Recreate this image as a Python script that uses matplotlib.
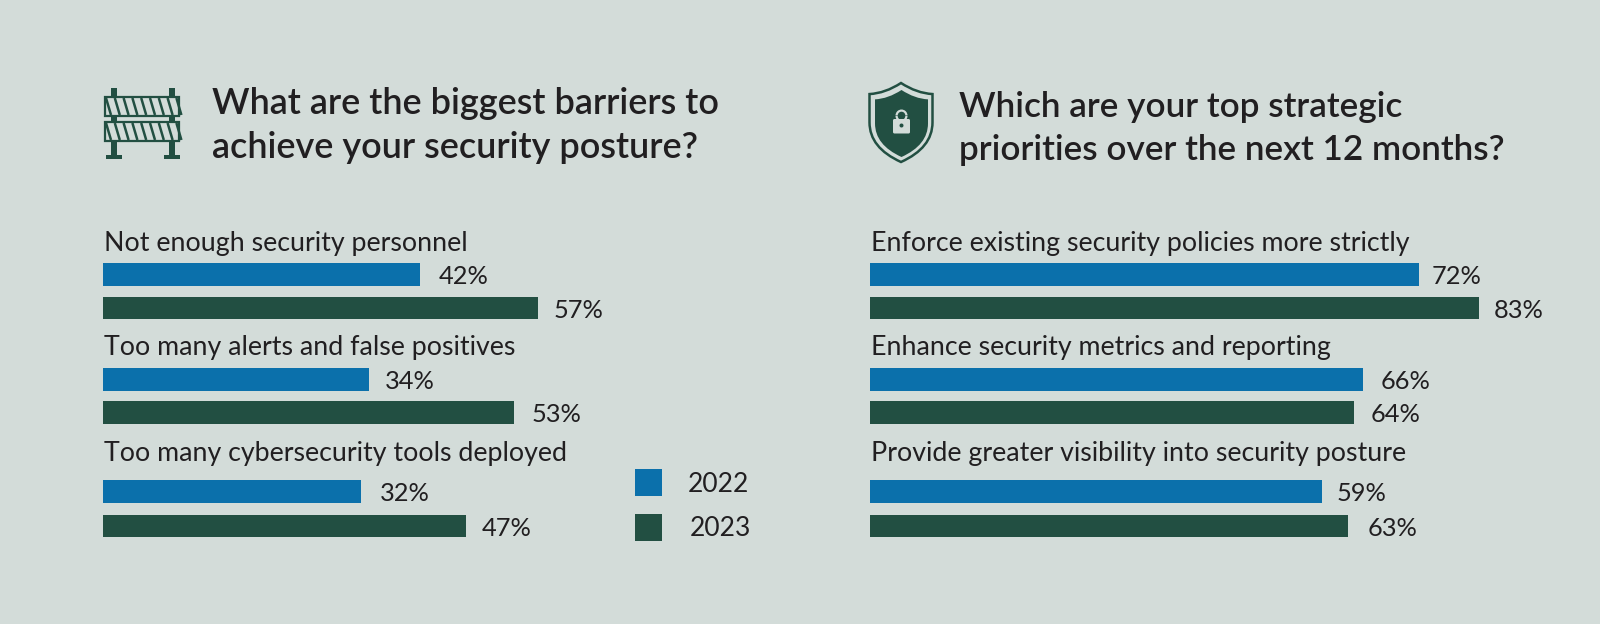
"""Security survey bars, two panels with icons."""
import matplotlib
matplotlib.use("Agg")
import matplotlib.pyplot as plt
from matplotlib.patches import PathPatch, Rectangle, Circle, FancyBboxPatch, Wedge
from matplotlib.path import Path

# ── data ─────────────────────────────────────────────────────────────────────
YEARS = ["2022", "2023"]

LEFT_TITLE = "What are the biggest barriers to\nachieve your security posture?"
LEFT_CATS = ["Not enough security personnel", "Too many alerts and false positives",
             "Too many cybersecurity tools deployed"]
# printed labels, and bar lengths as measured (the artwork's bars are not quite to scale)
LEFT_LABELS_2022 = ["42%", "34%", "32%"]
LEFT_LABELS_2023 = ["57%", "53%", "47%"]
LEFT_2022 = [41.3, 34.7, 33.6]
LEFT_2023 = [56.7, 53.5, 47.3]

RIGHT_TITLE = "Which are your top strategic\npriorities over the next 12 months?"
RIGHT_CATS = ["Enforce existing security policies more strictly",
              "Enhance security metrics and reporting",
              "Provide greater visibility into security posture"]
RIGHT_LABELS_2022 = ["72%", "66%", "59%"]
RIGHT_LABELS_2023 = ["83%", "64%", "63%"]
RIGHT_2022 = [73.0, 65.6, 60.1]
RIGHT_2023 = [81.0, 64.4, 63.5]

# ── style ────────────────────────────────────────────────────────────────────
BG = "#D3DCD9"
BLUE = "#0B70AB"
GREEN = "#224F42"
INK = "#211F21"
W, H = 1600, 624
FONT = "Lato"

CAT_Y = [243, 347, 454]
Y_22 = [274.5, 379.5, 491.5]
Y_23 = [308, 412.5, 526]

plt.rcParams["font.family"] = [FONT, "DejaVu Sans"]

fig = plt.figure(figsize=(W / 100, H / 100), dpi=100, facecolor=BG)

# pixel overlay for titles, legend and icons
bg = fig.add_axes([0, 0, 1, 1])
bg.set_xlim(0, W)
bg.set_ylim(H, 0)
bg.axis("off")


def panel(x0, x_per_pct, cats, v22, v23, lab22, lab23, gap22, gap23):
    # x follows percent, y stays in figure pixels
    width = 700
    ax = fig.add_axes([x0 / W, 0, width / W, 1])
    ax.set_xlim(0, width / x_per_pct)
    ax.set_ylim(H, 0)
    ax.axis("off")
    ax.patch.set_alpha(0)
    for i, cat in enumerate(cats):
        ax.text(1 / x_per_pct, CAT_Y[i], cat, fontsize=19.3, color=INK, va="center")
        ax.barh(Y_22[i], v22[i], height=22.5, color=BLUE)
        ax.barh(Y_23[i], v23[i], height=22.5, color=GREEN)
        ax.text(v22[i] + gap22[i] / x_per_pct, Y_22[i] + 2, lab22[i], fontsize=18.3, color=INK, va="center")
        ax.text(v23[i] + gap23[i] / x_per_pct, Y_23[i] + 2, lab23[i], fontsize=18.3, color=INK, va="center")


panel(103, 7.68, LEFT_CATS, LEFT_2022, LEFT_2023, LEFT_LABELS_2022, LEFT_LABELS_2023,
      [19, 15, 19], [15, 18, 15])
panel(870, 7.52, RIGHT_CATS, RIGHT_2022, RIGHT_2023, RIGHT_LABELS_2022, RIGHT_LABELS_2023,
      [13, 17, 15], [15, 16, 20])

# titles
bg.text(212, 125.5, LEFT_TITLE, fontsize=25.9, fontweight=600, color=INK, va="center", linespacing=1.42)
bg.text(959, 128.5, RIGHT_TITLE, fontsize=25.3, fontweight=600, color=INK, va="center", linespacing=1.39)

# legend
for yr, c, y, tx in zip(YEARS, [BLUE, GREEN], [469, 514], [688, 690]):
    bg.add_patch(Rectangle((635, y), 27, 27, color=c, lw=0))
    bg.text(tx, y + 15, yr, fontsize=19, color=INK, va="center")

# barrier icon
for x in (111, 169):
    bg.add_patch(Rectangle((x, 88), 6, 68, color=GREEN, lw=0))
    bg.add_patch(Rectangle((x - 5, 155), 16, 3.5, color=GREEN, lw=0))
for y in (97, 122):
    bg.add_patch(Rectangle((104.5, y), 74.5, 19, facecolor=BG, edgecolor=GREEN, lw=1.6, zorder=3))
    for k in range(9):
        x = 106 + k * 8.8
        bg.plot([x, x + 5], [y + 1, y + 18], color=GREEN, lw=1.8, zorder=4, solid_capstyle="butt")


# shield icon
def shield(cx, top, hw, h, **kw):
    verts = [(cx, top), (cx + hw * 0.5, top + h * 0.13), (cx + hw, top + h * 0.14),
             (cx + hw, top + h * 0.5), (cx + hw, top + h * 0.82), (cx, top + h),
             (cx - hw, top + h * 0.82), (cx - hw, top + h * 0.5),
             (cx - hw, top + h * 0.14), (cx - hw * 0.5, top + h * 0.13), (cx, top), (cx, top)]
    codes = [Path.MOVETO, Path.CURVE3, Path.CURVE3, Path.LINETO, Path.CURVE3, Path.CURVE3,
             Path.CURVE3, Path.CURVE3, Path.LINETO, Path.CURVE3, Path.CURVE3, Path.CLOSEPOLY]
    bg.add_patch(PathPatch(Path(verts, codes), **kw))


shield(901, 83, 31.5, 79, facecolor=BG, edgecolor=GREEN, lw=1.8)
shield(901.5, 90, 26.5, 67, facecolor=GREEN, edgecolor="none")
bg.add_patch(FancyBboxPatch((894.5, 120.5), 14, 11.5, boxstyle="round,pad=1.5", color=BG, lw=0))
bg.add_patch(Wedge((901.5, 115.5), 6, 180, 360, width=2.2, color=BG, lw=0))
bg.add_patch(Wedge((901.5, 116), 6, 0, 180, width=2.2, color=BG, lw=0))
bg.add_patch(Circle((901.5, 125.5), 2, color=GREEN, lw=0))

fig.savefig("out.png", dpi=100, facecolor=BG)
